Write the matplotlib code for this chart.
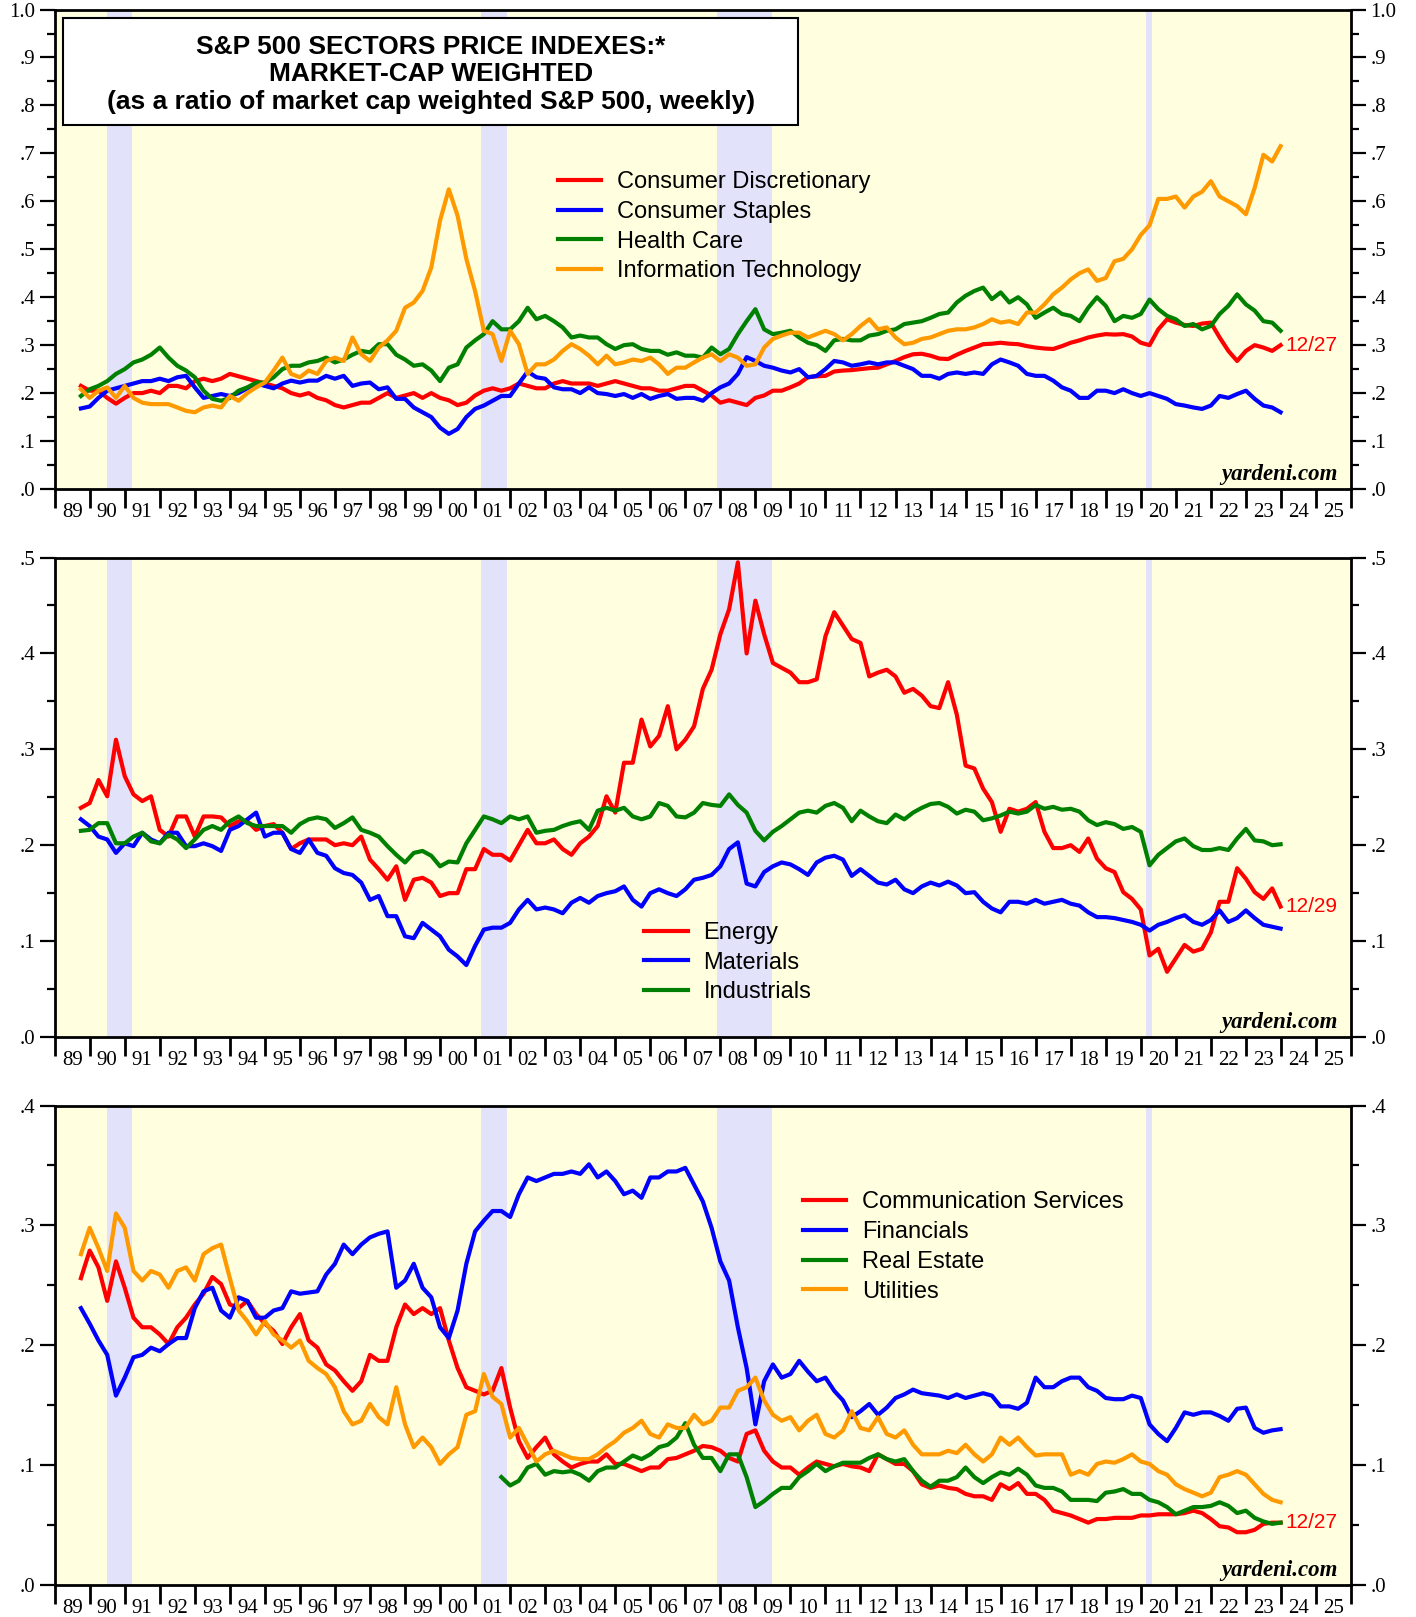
import numpy as np
import matplotlib.pyplot as plt
import matplotlib.patches as mpatches
from matplotlib.ticker import MultipleLocator, FixedLocator, FuncFormatter

# ---- data: quarterly readings of the weekly ratios (start 1989.75, last point = 12/27/2023) ----
START = 1989.75
END = 2023.99

cons_disc = [0.215,
    0.205, 0.205, 0.19, 0.178,   0.19, 0.20, 0.20, 0.205,     0.20, 0.215, 0.215, 0.21,
    0.225, 0.23, 0.225, 0.23,    0.24, 0.235, 0.23, 0.225,    0.22, 0.215, 0.21, 0.20,
    0.195, 0.20, 0.19, 0.185,    0.175, 0.17, 0.175, 0.18,    0.18, 0.19, 0.20, 0.19,
    0.195, 0.20, 0.19, 0.20,     0.19, 0.185, 0.175, 0.18,    0.195, 0.205, 0.21, 0.205,
    0.21, 0.22, 0.215, 0.21,     0.21, 0.22, 0.225, 0.22,     0.22, 0.22, 0.215, 0.22,
    0.225, 0.22, 0.215, 0.21,    0.21, 0.205, 0.205, 0.21,    0.215, 0.215, 0.205, 0.195,
    0.18, 0.185, 0.18, 0.175,    0.19, 0.195, 0.205, 0.205,   0.212, 0.22, 0.233, 0.235,
    0.236, 0.245, 0.247, 0.248,  0.25, 0.252, 0.253, 0.26,    0.267, 0.275, 0.281, 0.282,
    0.278, 0.272, 0.271, 0.28,   0.288, 0.295, 0.302, 0.303,  0.305, 0.303, 0.302, 0.298,
    0.295, 0.293, 0.292, 0.298,  0.305, 0.31, 0.316, 0.32,    0.323, 0.322, 0.323, 0.318,
    0.305, 0.30, 0.333, 0.354,   0.347, 0.342, 0.34, 0.345,   0.347, 0.316, 0.288, 0.267,
    0.288, 0.30, 0.295, 0.288,   0.30]

cons_staples = [0.168,
    0.172, 0.19, 0.205, 0.21,    0.215, 0.22, 0.225, 0.225,   0.23, 0.225, 0.233, 0.236,
    0.212, 0.19, 0.194, 0.198,   0.194, 0.20, 0.21, 0.22,     0.215, 0.21, 0.22, 0.226,
    0.222, 0.226, 0.226, 0.236,  0.23, 0.236, 0.215, 0.22,    0.222, 0.208, 0.212, 0.188,
    0.188, 0.17, 0.16, 0.15,     0.128, 0.115, 0.125, 0.15,   0.167, 0.174, 0.184, 0.194,
    0.194, 0.22, 0.245, 0.233,   0.23, 0.212, 0.208, 0.208,   0.20, 0.212, 0.20, 0.198,
    0.194, 0.198, 0.19, 0.198,   0.188, 0.194, 0.198, 0.188,  0.19, 0.19, 0.184, 0.20,
    0.212, 0.22, 0.24, 0.275,    0.267, 0.257, 0.253, 0.247,  0.243, 0.25, 0.233, 0.236,
    0.25, 0.267, 0.264, 0.257,   0.26, 0.264, 0.26, 0.264,    0.264, 0.257, 0.25, 0.236,
    0.236, 0.23, 0.24, 0.243,    0.24, 0.243, 0.24, 0.26,     0.27, 0.264, 0.257, 0.24,
    0.236, 0.236, 0.226, 0.212,  0.205, 0.19, 0.19, 0.205,    0.205, 0.20, 0.208, 0.20,
    0.194, 0.20, 0.194, 0.188,   0.177, 0.174, 0.17, 0.167,   0.174, 0.194, 0.19, 0.198,
    0.205, 0.188, 0.174, 0.17,   0.16]

health_care = [0.194,
    0.208, 0.215, 0.225, 0.24,   0.25, 0.264, 0.27, 0.28,     0.295, 0.274, 0.257, 0.247,
    0.233, 0.205, 0.188, 0.184,  0.19, 0.205, 0.212, 0.222,   0.222, 0.233, 0.25, 0.257,
    0.257, 0.264, 0.267, 0.274,  0.264, 0.27, 0.28, 0.288,    0.285, 0.302, 0.302, 0.28,
    0.27, 0.257, 0.26, 0.247,    0.225, 0.253, 0.26, 0.295,   0.31, 0.323, 0.35, 0.333,
    0.333, 0.35, 0.378, 0.354,   0.361, 0.35, 0.337, 0.316,   0.32, 0.316, 0.316, 0.302,
    0.292, 0.30, 0.302, 0.292,   0.288, 0.288, 0.28, 0.285,   0.278, 0.278, 0.274, 0.295,
    0.281, 0.292, 0.323, 0.35,   0.375, 0.333, 0.323, 0.326,  0.33, 0.316, 0.305, 0.30,
    0.288, 0.31, 0.313, 0.31,    0.31, 0.32, 0.323, 0.33,     0.333, 0.344, 0.347, 0.35,
    0.357, 0.365, 0.368, 0.389,  0.403, 0.413, 0.42, 0.396,   0.41, 0.389, 0.40, 0.385,
    0.357, 0.368, 0.378, 0.365,  0.361, 0.35, 0.378, 0.40,    0.382, 0.35, 0.361, 0.357,
    0.365, 0.395, 0.375, 0.361,  0.354, 0.34, 0.344, 0.333,   0.34, 0.365, 0.382, 0.406,
    0.385, 0.372, 0.35, 0.347,   0.33]

info_tech = [0.208,
    0.19, 0.205, 0.212, 0.19,    0.215, 0.19, 0.18, 0.177,    0.177, 0.177, 0.17, 0.163,
    0.16, 0.17, 0.174, 0.17,     0.194, 0.184, 0.20, 0.212,   0.222, 0.247, 0.274, 0.24,
    0.233, 0.247, 0.24, 0.267,   0.274, 0.267, 0.316, 0.281,  0.267, 0.295, 0.31, 0.33,
    0.378, 0.389, 0.413, 0.462,  0.56, 0.625, 0.57, 0.48,     0.413, 0.33, 0.323, 0.267,
    0.33, 0.302, 0.24, 0.26,     0.26, 0.27, 0.288, 0.302,    0.292, 0.278, 0.26, 0.278,
    0.26, 0.264, 0.27, 0.267,    0.274, 0.26, 0.24, 0.253,    0.253, 0.264, 0.274, 0.281,
    0.267, 0.281, 0.274, 0.257,  0.26, 0.295, 0.313, 0.32,    0.326, 0.326, 0.316, 0.323,
    0.33, 0.323, 0.31, 0.323,    0.34, 0.354, 0.333, 0.337,   0.316, 0.302, 0.305, 0.313,
    0.316, 0.323, 0.33, 0.333,   0.333, 0.337, 0.344, 0.354,  0.347, 0.35, 0.344, 0.368,
    0.368, 0.385, 0.406, 0.42,   0.437, 0.45, 0.458, 0.434,   0.44, 0.475, 0.48, 0.50,
    0.53, 0.55, 0.605, 0.605,    0.61, 0.587, 0.61, 0.62,     0.642, 0.61, 0.60, 0.59,
    0.573, 0.628, 0.697, 0.683,  0.715]

energy = [0.239,
    0.244, 0.268, 0.251, 0.31,   0.272, 0.253, 0.246, 0.251,  0.216, 0.209, 0.23, 0.23,
    0.209, 0.23, 0.23, 0.229,    0.22, 0.225, 0.225, 0.216,   0.22, 0.222, 0.213, 0.196,
    0.202, 0.206, 0.206, 0.206,  0.20, 0.202, 0.20, 0.209,    0.185, 0.175, 0.164, 0.178,
    0.143, 0.164, 0.166, 0.161,  0.147, 0.15, 0.15, 0.175,    0.175, 0.196, 0.19, 0.19,
    0.184, 0.20, 0.216, 0.202,   0.202, 0.206, 0.196, 0.19,   0.202, 0.209, 0.22, 0.251,
    0.234, 0.286, 0.286, 0.331,  0.303, 0.314, 0.345, 0.30,   0.31, 0.324, 0.363, 0.383,
    0.42, 0.446, 0.495, 0.40,    0.455, 0.42, 0.39, 0.385,    0.38, 0.37, 0.37, 0.373,
    0.418, 0.443, 0.429, 0.415,  0.411, 0.376, 0.38, 0.383,   0.376, 0.359, 0.363, 0.356,
    0.345, 0.343, 0.37, 0.336,   0.283, 0.28, 0.259, 0.245,   0.214, 0.238, 0.235, 0.238,
    0.245, 0.214, 0.197, 0.197,  0.20, 0.193, 0.207, 0.186,   0.176, 0.172, 0.151, 0.144,
    0.133, 0.085, 0.092, 0.068,  0.082, 0.096, 0.089, 0.092,  0.109, 0.141, 0.141, 0.176,
    0.165, 0.151, 0.144, 0.155,  0.136]

materials = [0.227,
    0.22, 0.209, 0.206, 0.192,   0.202, 0.199, 0.213, 0.206,  0.202, 0.213, 0.213, 0.199,
    0.199, 0.202, 0.199, 0.194,  0.216, 0.22, 0.227, 0.234,   0.209, 0.213, 0.213, 0.196,
    0.192, 0.206, 0.192, 0.189,  0.176, 0.171, 0.169, 0.161,  0.143, 0.147, 0.126, 0.126,
    0.105, 0.103, 0.119, 0.112,  0.105, 0.091, 0.084, 0.075,  0.095, 0.112, 0.114, 0.114,
    0.119, 0.133, 0.143, 0.133,  0.135, 0.133, 0.129, 0.14,   0.145, 0.14, 0.147, 0.15,
    0.152, 0.157, 0.143, 0.136,  0.15, 0.154, 0.15, 0.147,    0.154, 0.164, 0.166, 0.169,
    0.178, 0.196, 0.203, 0.16,   0.157, 0.172, 0.178, 0.182,  0.18, 0.175, 0.169, 0.182,
    0.187, 0.189, 0.185, 0.168,  0.175, 0.168, 0.161, 0.159,  0.164, 0.154, 0.15, 0.157,
    0.161, 0.158, 0.162, 0.158,  0.15, 0.151, 0.141, 0.134,   0.13, 0.141, 0.141, 0.139,
    0.143, 0.139, 0.141, 0.143,  0.139, 0.137, 0.13, 0.125,   0.125, 0.124, 0.122, 0.12,
    0.117, 0.111, 0.117, 0.12,   0.124, 0.127, 0.12, 0.117,   0.122, 0.132, 0.12, 0.124,
    0.132, 0.124, 0.117, 0.115,  0.113]

industrials = [0.215,
    0.216, 0.223, 0.223, 0.202,  0.202, 0.209, 0.213, 0.204,  0.202, 0.211, 0.206, 0.197,
    0.206, 0.216, 0.22, 0.216,   0.225, 0.23, 0.223, 0.22,    0.22, 0.22, 0.22, 0.213,
    0.222, 0.227, 0.229, 0.227,  0.218, 0.223, 0.229, 0.216,  0.213, 0.209, 0.199, 0.19,
    0.182, 0.192, 0.194, 0.189,  0.178, 0.183, 0.182, 0.202,  0.216, 0.23, 0.227, 0.223,
    0.23, 0.227, 0.23, 0.213,    0.215, 0.216, 0.22, 0.223,   0.225, 0.216, 0.236, 0.239,
    0.236, 0.239, 0.23, 0.227,   0.23, 0.244, 0.241, 0.23,    0.229, 0.234, 0.244, 0.242,
    0.241, 0.253, 0.242, 0.234,  0.215, 0.205, 0.214, 0.22,   0.227, 0.234, 0.236, 0.234,
    0.241, 0.244, 0.239, 0.225,  0.236, 0.23, 0.225, 0.223,   0.232, 0.227, 0.234, 0.239,
    0.243, 0.244, 0.24, 0.233,   0.237, 0.235, 0.226, 0.228,  0.231, 0.235, 0.233, 0.235,
    0.242, 0.238, 0.24, 0.237,   0.238, 0.235, 0.226, 0.221,  0.224, 0.222, 0.217, 0.219,
    0.214, 0.179, 0.19, 0.197,   0.204, 0.207, 0.199, 0.195,  0.195, 0.197, 0.195, 0.207,
    0.217, 0.205, 0.204, 0.20,   0.201]

comm_services = [0.256,
    0.279, 0.265, 0.237, 0.27,   0.248, 0.223, 0.215, 0.215,  0.209, 0.201, 0.215, 0.223,
    0.234, 0.243, 0.257, 0.251,  0.234, 0.231, 0.237, 0.226,  0.218, 0.212, 0.201, 0.215,
    0.226, 0.204, 0.198, 0.184,  0.179, 0.17, 0.162, 0.17,    0.192, 0.187, 0.187, 0.215,
    0.234, 0.226, 0.231, 0.226,  0.231, 0.204, 0.181, 0.165,  0.162, 0.159, 0.162, 0.181,
    0.148, 0.12, 0.106, 0.115,   0.123, 0.109, 0.103, 0.098,  0.101, 0.103, 0.103, 0.109,
    0.101, 0.101, 0.098, 0.095,  0.098, 0.098, 0.105, 0.106,  0.109, 0.112, 0.116, 0.115,
    0.112, 0.106, 0.103, 0.126,  0.129, 0.112, 0.103, 0.098,  0.098, 0.092, 0.098, 0.103,
    0.101, 0.099, 0.101, 0.099,  0.098, 0.095, 0.109, 0.105,  0.101, 0.101, 0.095, 0.084,
    0.081, 0.083, 0.081, 0.08,   0.076, 0.074, 0.074, 0.071,  0.084, 0.08, 0.085, 0.076,
    0.076, 0.071, 0.062, 0.06,   0.058, 0.055, 0.052, 0.055,  0.055, 0.056, 0.056, 0.056,
    0.058, 0.058, 0.059, 0.059,  0.059, 0.06, 0.062, 0.06,    0.055, 0.049, 0.048, 0.044,
    0.044, 0.046, 0.051, 0.052,  0.052]

financials = [0.231,
    0.218, 0.204, 0.192, 0.158,  0.173, 0.19, 0.192, 0.198,   0.195, 0.201, 0.206, 0.206,
    0.231, 0.245, 0.248, 0.229,  0.223, 0.24, 0.237, 0.223,   0.223, 0.229, 0.231, 0.245,
    0.243, 0.244, 0.245, 0.259,  0.268, 0.284, 0.276, 0.284,  0.29, 0.293, 0.295, 0.248,
    0.254, 0.268, 0.248, 0.24,   0.215, 0.206, 0.229, 0.268,  0.295, 0.304, 0.312, 0.312,
    0.307, 0.326, 0.34, 0.337,   0.34, 0.343, 0.343, 0.345,   0.343, 0.351, 0.34, 0.345,
    0.337, 0.326, 0.329, 0.323,  0.34, 0.34, 0.345, 0.345,    0.348, 0.334, 0.32, 0.298,
    0.27, 0.254, 0.215, 0.181,   0.134, 0.17, 0.184, 0.173,   0.176, 0.187, 0.178, 0.17,
    0.173, 0.162, 0.154, 0.14,   0.145, 0.151, 0.142, 0.148,  0.156, 0.159, 0.163, 0.16,
    0.159, 0.158, 0.156, 0.159,  0.156, 0.158, 0.16, 0.158,   0.149, 0.149, 0.147, 0.152,
    0.173, 0.165, 0.165, 0.17,   0.173, 0.173, 0.165, 0.162,  0.156, 0.155, 0.155, 0.158,
    0.156, 0.134, 0.126, 0.12,   0.131, 0.144, 0.142, 0.144,  0.144, 0.141, 0.137, 0.147,
    0.148, 0.131, 0.127, 0.129,  0.13]

# Real Estate starts in Q4 2001
RE_START = 2001.75
real_estate = [0.09,
    0.083, 0.087, 0.098, 0.101,  0.092, 0.095, 0.094, 0.095,  0.092, 0.087, 0.095, 0.098,
    0.098, 0.103, 0.108, 0.105,  0.109, 0.115, 0.117, 0.123,  0.135, 0.117, 0.106, 0.106,
    0.095, 0.109, 0.109, 0.09,   0.065, 0.07, 0.076, 0.081,   0.081, 0.09, 0.095, 0.101,
    0.095, 0.099, 0.102, 0.102,  0.102, 0.106, 0.109, 0.105,  0.103, 0.105, 0.095, 0.087,
    0.082, 0.087, 0.087, 0.09,   0.098, 0.09, 0.085, 0.09,    0.094, 0.092, 0.097, 0.092,
    0.083, 0.081, 0.081, 0.078,  0.071, 0.071, 0.071, 0.07,   0.077, 0.078, 0.08, 0.076,
    0.076, 0.071, 0.069, 0.065,  0.059, 0.062, 0.065, 0.065,  0.066, 0.069, 0.066, 0.06,
    0.062, 0.056, 0.053, 0.051,  0.052]

utilities = [0.276,
    0.298, 0.281, 0.262, 0.31,   0.298, 0.262, 0.254, 0.262,  0.259, 0.248, 0.262, 0.265,
    0.254, 0.276, 0.281, 0.284,  0.256, 0.229, 0.22, 0.209,   0.22, 0.209, 0.204, 0.198,
    0.204, 0.187, 0.181, 0.176,  0.165, 0.145, 0.134, 0.137,  0.151, 0.14, 0.134, 0.165,
    0.134, 0.115, 0.123, 0.115,  0.101, 0.109, 0.115, 0.142,  0.145, 0.176, 0.157, 0.151,
    0.123, 0.131, 0.117, 0.103,  0.109, 0.112, 0.109, 0.106,  0.105, 0.105, 0.109, 0.115,
    0.12, 0.127, 0.131, 0.137,   0.126, 0.123, 0.134, 0.131,  0.131, 0.142, 0.134, 0.137,
    0.148, 0.148, 0.162, 0.165,  0.173, 0.154, 0.142, 0.137,  0.14, 0.129, 0.137, 0.142,
    0.126, 0.123, 0.129, 0.145,  0.131, 0.129, 0.14, 0.126,   0.123, 0.129, 0.117, 0.109,
    0.109, 0.109, 0.112, 0.11,   0.117, 0.109, 0.103, 0.109,  0.123, 0.117, 0.123, 0.115,
    0.108, 0.109, 0.109, 0.109,  0.092, 0.095, 0.092, 0.101,  0.103, 0.102, 0.105, 0.109,
    0.103, 0.101, 0.095, 0.092,  0.084, 0.08, 0.077, 0.074,   0.077, 0.09, 0.092, 0.095,
    0.092, 0.084, 0.076, 0.071,  0.069]

recessions = [(1990.5, 1991.22), (2001.17, 2001.9), (2007.9, 2009.47), (2020.14, 2020.32)]

RED, BLUE, GREEN, ORANGE = '#ff0000', '#0000ff', '#008000', '#ff9900'
BG = '#ffffe0'
BAND = '#e2e2fa'


def dates_for(vals, start=START):
    d = start + 0.25 * np.arange(len(vals))
    d[-1] = END
    return d


def ylabel_fmt(v, pos):
    s = f'{v:.1f}'
    return s[1:] if s.startswith('0') else s


fig = plt.figure(figsize=(14.16, 16.17), dpi=100)
left, width, height = 0.0386, 0.9155, 0.2965
bottoms = [0.6976, 0.3587, 0.0198]
ymaxes = [1.0, 0.5, 0.4]
axes = []
for b, ymax in zip(bottoms, ymaxes):
    ax = fig.add_axes([left, b, width, height])
    ax.set_facecolor(BG)
    for r0, r1 in recessions:
        ax.axvspan(r0, r1, color=BAND, lw=0, zorder=0)
    ax.set_xlim(1989, 2026)
    ax.set_ylim(0, ymax)
    for s in ax.spines.values():
        s.set_linewidth(2.0)
    # x: year boundaries as ticks, labels centred in each year
    ax.xaxis.set_major_locator(FixedLocator(np.arange(1989, 2027)))
    ax.xaxis.set_minor_locator(FixedLocator(np.arange(1989, 2026) + 0.5))
    ax.xaxis.set_major_formatter(FuncFormatter(lambda v, p: ''))
    ax.xaxis.set_minor_formatter(FuncFormatter(lambda v, p: f'{int(v) % 100:02d}'))
    ax.tick_params(axis='x', which='major', direction='out', length=14, width=2)
    ax.tick_params(axis='x', which='minor', length=0, pad=10, labelsize=15)
    # y
    ax.yaxis.set_major_locator(MultipleLocator(0.1))
    ax.yaxis.set_minor_locator(MultipleLocator(0.05))
    ax.yaxis.set_major_formatter(FuncFormatter(ylabel_fmt))
    ax.tick_params(axis='y', which='both', direction='out', left=True, right=True,
                   labelleft=True, labelright=True, labelsize=15, pad=3)
    ax.tick_params(axis='y', which='major', length=11, width=1.6)
    ax.tick_params(axis='y', which='minor', length=6, width=1.6)
    for lab in ax.get_xticklabels(which='both') + ax.get_yticklabels():
        lab.set_family('Liberation Serif')
    ax.text(0.99, 0.018, 'yardeni.com', transform=ax.transAxes, ha='right', va='baseline',
            fontsize=16.5, fontweight='bold', fontstyle='italic', family='Liberation Serif')
    axes.append(ax)

LW = 3.0
lfont = {'family': 'Liberation Sans', 'size': 17}
leg_kw = dict(loc='upper left', frameon=False, prop=lfont, handlelength=1.85,
              handletextpad=0.65, labelspacing=0.33, borderpad=0, borderaxespad=0)

# ---- panel 1 ----
ax = axes[0]
for vals, c, name in [(cons_disc, RED, 'Consumer Discretionary'),
                      (cons_staples, BLUE, 'Consumer Staples'),
                      (health_care, GREEN, 'Health Care'),
                      (info_tech, ORANGE, 'Information Technology')]:
    ax.plot(dates_for(vals), vals, color=c, lw=LW, label=name)
ax.legend(bbox_to_anchor=(0.388, 0.663), **leg_kw)
ax.text(END + 0.15, cons_disc[-1], '12/27', color=RED, fontsize=15, va='center',
        family='Liberation Sans')
ax.add_patch(mpatches.Rectangle((0.0065, 0.759), 0.567, 0.224, transform=ax.transAxes,
                                facecolor='white', edgecolor='black', lw=1.5, zorder=5))
for yy, t in [(0.922, 'S&P 500 SECTORS PRICE INDEXES:*'),
              (0.866, 'MARKET-CAP WEIGHTED'),
              (0.808, '(as a ratio of market cap weighted S&P 500, weekly)')]:
    ax.text(0.29, yy, t, transform=ax.transAxes, ha='center', va='center', fontsize=19,
            fontweight='bold', family='Liberation Sans', zorder=6)

# ---- panel 2 ----
ax = axes[1]
for vals, c, name in [(energy, RED, 'Energy'),
                      (materials, BLUE, 'Materials'),
                      (industrials, GREEN, 'Industrials')]:
    ax.plot(dates_for(vals), vals, color=c, lw=LW, label=name)
ax.legend(bbox_to_anchor=(0.455, 0.24), **leg_kw)
ax.text(END + 0.15, energy[-1], '12/29', color=RED, fontsize=15, va='center',
        family='Liberation Sans')

# ---- panel 3 ----
ax = axes[2]
ax.plot(dates_for(comm_services), comm_services, color=RED, lw=LW, label='Communication Services')
ax.plot(dates_for(financials), financials, color=BLUE, lw=LW, label='Financials')
ax.plot(dates_for(real_estate, RE_START), real_estate, color=GREEN, lw=LW, label='Real Estate')
ax.plot(dates_for(utilities), utilities, color=ORANGE, lw=LW, label='Utilities')
ax.legend(bbox_to_anchor=(0.577, 0.821), **leg_kw)
ax.text(END + 0.15, comm_services[-1], '12/27', color=RED, fontsize=15, va='center',
        family='Liberation Sans')

fig.savefig('out.png', dpi=100)
